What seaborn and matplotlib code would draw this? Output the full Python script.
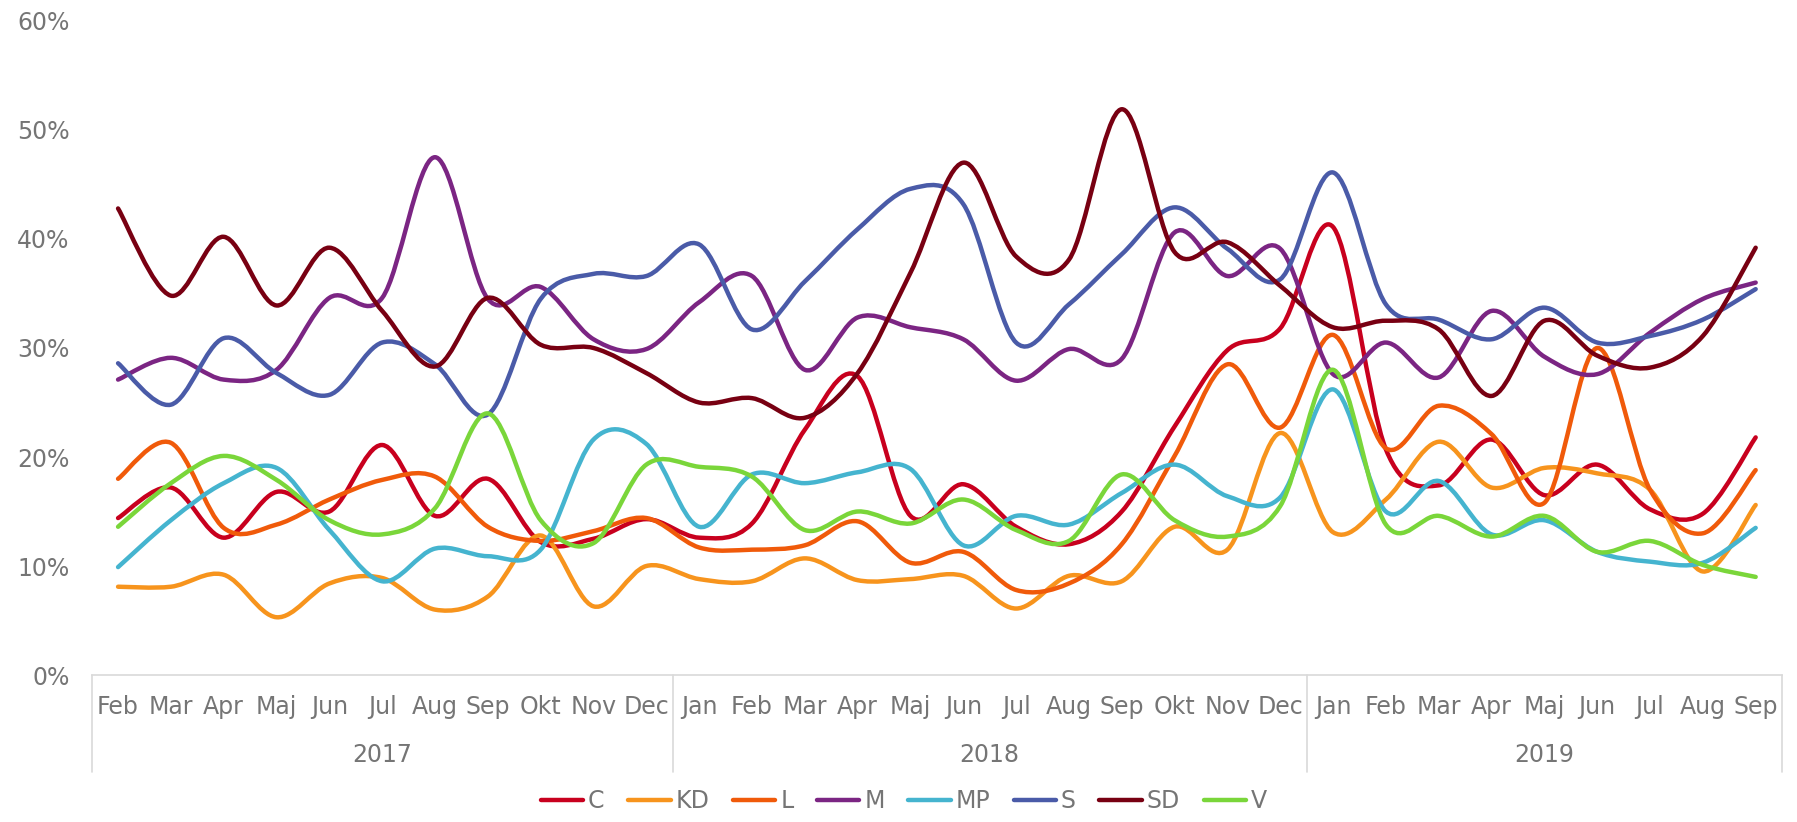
import numpy as np
import matplotlib
matplotlib.use("Agg")
import matplotlib.pyplot as plt
import matplotlib.transforms as mtransforms
from matplotlib.path import Path
from matplotlib.patches import PathPatch
from matplotlib.lines import Line2D
from matplotlib.ticker import PercentFormatter
import seaborn as sns

# data (percent), Feb 2017 .. Sep 2019
months = ["Feb", "Mar", "Apr", "Maj", "Jun", "Jul", "Aug", "Sep", "Okt", "Nov", "Dec",
          "Jan", "Feb", "Mar", "Apr", "Maj", "Jun", "Jul", "Aug", "Sep", "Okt", "Nov", "Dec",
          "Jan", "Feb", "Mar", "Apr", "Maj", "Jun", "Jul", "Aug", "Sep"]
years = ["2017", "2018", "2019"]
year_counts = [11, 12, 9]

C = [14.4, 17.2, 12.6, 16.8, 15.0, 21.1, 14.6, 18.0, 12.2, 12.5, 14.3, 12.6, 13.9, 22.5, 27.4, 14.6,
     17.5, 13.6, 12.0, 15.0, 22.8, 29.8, 31.8, 41.1, 20.7, 17.4, 21.6, 16.5, 19.3, 15.2, 14.8, 21.8]
KD = [8.1, 8.1, 9.2, 5.3, 8.4, 8.9, 6.0, 7.2, 12.8, 6.3, 10.0, 8.8, 8.6, 10.7, 8.7, 8.8,
      9.1, 6.1, 9.1, 8.6, 13.6, 11.5, 22.2, 13.1, 16.1, 21.4, 17.2, 19.0, 18.5, 17.0, 9.5, 15.6]
L = [18.0, 21.3, 13.5, 13.8, 16.1, 17.9, 18.2, 13.6, 12.3, 13.2, 14.4, 11.7, 11.5, 11.9, 14.1, 10.3,
     11.3, 7.8, 8.4, 12.0, 20.1, 28.5, 22.7, 31.2, 20.8, 24.7, 22.1, 15.8, 30.0, 17.0, 13.0, 18.8]
M = [27.1, 29.1, 27.1, 28.0, 34.6, 34.6, 47.5, 34.5, 35.6, 30.8, 29.9, 34.2, 36.6, 28.0, 32.8, 31.9,
     30.8, 27.0, 29.9, 29.0, 40.6, 36.6, 39.1, 27.6, 30.5, 27.3, 33.4, 29.2, 27.6, 31.4, 34.5, 36.0]
MP = [9.9, 14.2, 17.6, 19.0, 13.3, 8.6, 11.6, 10.9, 11.5, 21.6, 21.2, 13.6, 18.4, 17.6, 18.6, 18.9,
      11.9, 14.6, 13.8, 16.7, 19.3, 16.4, 16.3, 26.2, 15.0, 17.8, 12.9, 14.2, 11.3, 10.4, 10.3, 13.5]
S = [28.6, 24.8, 30.9, 27.7, 25.7, 30.5, 28.5, 23.9, 34.5, 36.8, 36.6, 39.5, 31.7, 36.1, 40.9, 44.6,
     43.2, 30.5, 34.0, 38.6, 42.9, 39.1, 36.3, 46.1, 34.0, 32.6, 30.8, 33.7, 30.5, 31.1, 32.6, 35.4]
SD = [42.8, 34.8, 40.2, 33.9, 39.2, 33.4, 28.3, 34.6, 30.3, 30.0, 27.7, 25.0, 25.4, 23.6, 27.7, 36.9,
      47.0, 38.4, 38.1, 51.9, 38.8, 39.7, 35.7, 31.9, 32.5, 31.7, 25.6, 32.5, 29.3, 28.2, 31.1, 39.2]
V = [13.6, 17.6, 20.1, 17.9, 14.2, 12.9, 15.3, 24.0, 14.2, 12.1, 19.3, 19.1, 18.2, 13.3, 15.0, 13.9,
     16.1, 13.3, 12.3, 18.4, 14.2, 12.7, 15.5, 28.0, 13.8, 14.6, 12.7, 14.6, 11.3, 12.3, 10.1, 9.0]

parties = ["C", "KD", "L", "M", "MP", "S", "SD", "V"]
series = [C, KD, L, M, MP, S, SD, V]
colors = ["#C8001E", "#F7941D", "#F05A0A", "#7B2583", "#45B4CF", "#4A5BA8", "#780012", "#7AD63A"]

gray = "#757575"
light = "#D9D9D9"


def smooth_path(vals):
    # excel-like smoothed line: cubic bezier through every point
    pts = np.column_stack([np.arange(len(vals)), vals]).astype(float)
    n = len(pts)
    verts = [pts[0]]
    codes = [Path.MOVETO]
    for i in range(n - 1):
        p0 = pts[max(i - 1, 0)]
        p1, p2 = pts[i], pts[i + 1]
        p3 = pts[min(i + 2, n - 1)]
        verts += [p1 + (p2 - p0) / 6, p2 - (p3 - p1) / 6, p2]
        codes += [Path.CURVE4] * 3
    return Path(verts, codes)


sns.set_theme(style="white")
plt.rcParams["font.family"] = ["DejaVu Sans"]

fig = plt.figure(figsize=(17.97, 8.22), dpi=100)
ax = fig.add_axes([0.051, 0.1788, 0.9407, 0.7957])

for vals, col in zip(series, colors):
    ax.add_patch(PathPatch(smooth_path(vals), facecolor="none", edgecolor=col,
                           lw=3.2, capstyle="round", joinstyle="round"))

ax.set_xlim(-0.5, len(months) - 0.5)
ax.set_ylim(0, 60)
ax.set_yticks(range(0, 61, 10))
ax.yaxis.set_major_formatter(PercentFormatter(decimals=0))
ax.set_xticks(range(len(months)))
ax.set_xticklabels(months)
ax.tick_params(axis="x", length=0, pad=14.5, labelsize=17, labelcolor=gray)
ax.tick_params(axis="y", length=0, pad=16, labelsize=17, labelcolor=gray)
for side in ["top", "right", "left"]:
    ax.spines[side].set_visible(False)
ax.spines["bottom"].set_color(light)
ax.spines["bottom"].set_linewidth(1.2)
ax.grid(False)

# year level of the category axis
trans = mtransforms.blended_transform_factory(ax.transData, ax.transAxes)
edges = np.concatenate([[0], np.cumsum(year_counts)]) - 0.5
for e in edges:
    ax.add_line(Line2D([e, e], [0, -0.148], transform=trans, color=light, lw=1.2, clip_on=False))
for yr, a, b in zip(years, edges[:-1], edges[1:]):
    ax.text((a + b) / 2, -0.122, yr, transform=trans, ha="center", va="center",
            fontsize=17, color=gray)

handles = [Line2D([], [], color=c, lw=3.2) for c in colors]
leg = fig.legend(handles, parties, loc="center", bbox_to_anchor=(0.503, 0.025), ncol=8,
                 frameon=False, fontsize=17, handlelength=1.8, handletextpad=0.2,
                 columnspacing=1.0)
for t in leg.get_texts():
    t.set_color(gray)

fig.savefig("out.png", dpi=100, facecolor="white")
